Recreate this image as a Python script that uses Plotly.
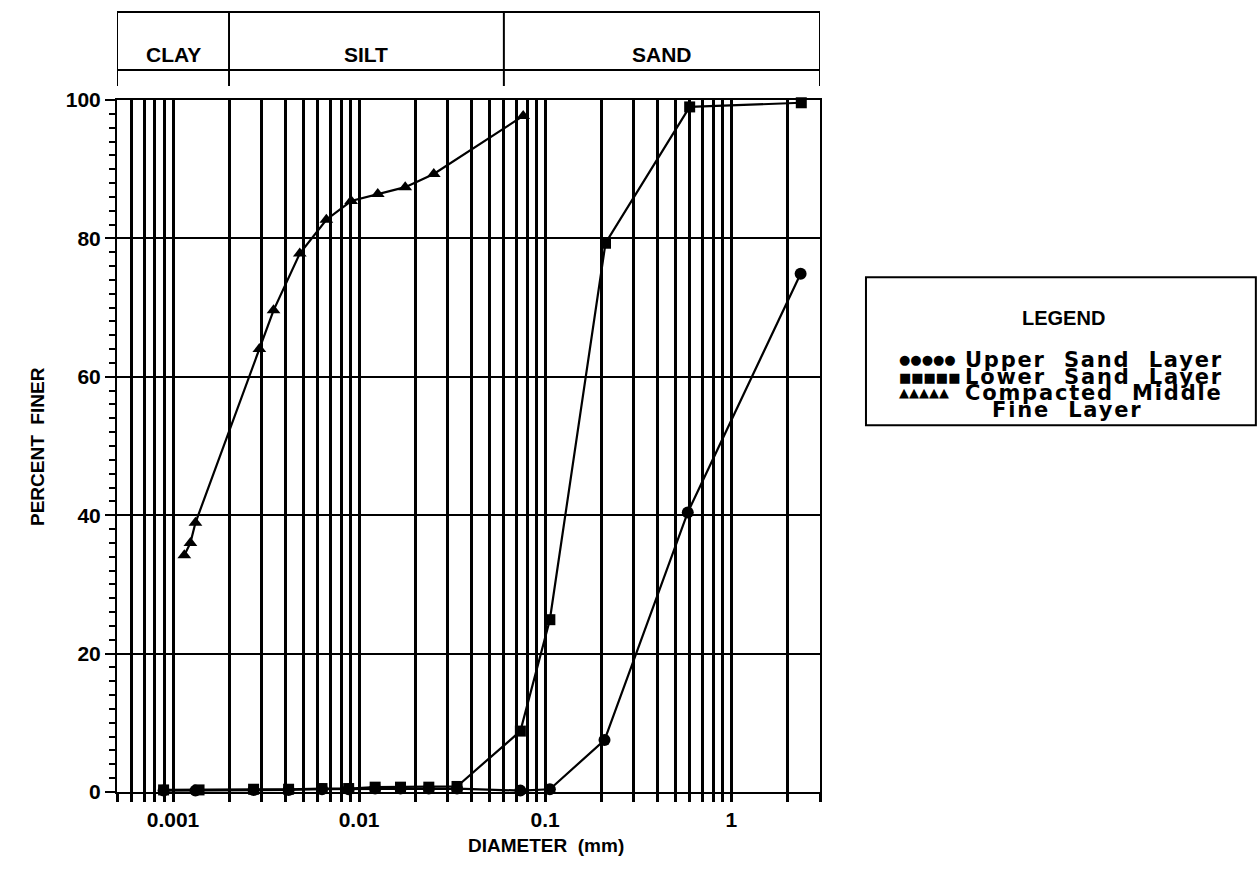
import numpy as np
import plotly.graph_objects as go

# Grain-size distribution data (diameter in mm, percent finer)
upper_sand_diam = [0.00089, 0.00132, 0.00271, 0.00418, 0.00632, 0.00879, 0.0122, 0.0167, 0.0237, 0.0336,
                   0.0736, 0.106, 0.2085, 0.584, 2.36]
upper_sand_pct = [0.2, 0.2, 0.3, 0.3, 0.4, 0.4, 0.5, 0.5, 0.5, 0.5,
                  0.2, 0.4, 7.5, 40.4, 74.9]

lower_sand_diam = [0.00089, 0.00138, 0.00271, 0.00418, 0.00632, 0.00879, 0.0122, 0.0167, 0.0237, 0.0336,
                   0.0736, 0.106, 0.211, 0.598, 2.38]
lower_sand_pct = [0.3, 0.3, 0.4, 0.4, 0.5, 0.5, 0.7, 0.7, 0.7, 0.8,
                  8.8, 24.9, 79.3, 99.0, 99.6]

middle_fine_diam = [0.00115, 0.00124, 0.00132, 0.00291, 0.00347, 0.0048, 0.00667, 0.00906, 0.0126,
                    0.0177, 0.0252, 0.0762]
middle_fine_pct = [34.2, 36.0, 38.9, 64.0, 69.6, 77.8, 82.7, 85.4, 86.4, 87.4, 89.3, 97.7]

series_names = ["Upper Sand Layer", "Lower Sand Layer", "Compacted Middle Fine Layer"]
series_symbols = ["circle", "square", "triangle-up"]
legend_glyphs = ["●●●●●", "■■■■■", "▲▲▲▲▲"]

# Log grid lines at every 1..9 of each decade
x_grid = [0.0005, 0.0006, 0.0007, 0.0008, 0.0009,
          0.001, 0.002, 0.003, 0.004, 0.005, 0.006, 0.007, 0.008, 0.009,
          0.01, 0.02, 0.03, 0.04, 0.05, 0.06, 0.07, 0.08, 0.09,
          0.1, 0.2, 0.3, 0.4, 0.5, 0.6, 0.7, 0.8, 0.9,
          1, 2, 3]
x_labels = {0.001: "0.001", 0.01: "0.01", 0.1: "0.1", 1: "1"}
y_ticks = [0, 20, 40, 60, 80, 100]

# Soil classification bands (mm)
band_names = ["CLAY", "SILT", "SAND"]
band_edges = [0.0005, 0.002, 0.06, 3]

x_min, x_max = 0.0005, 3

fig = go.Figure()
for name, sym, xs, ys, msize in zip(
        series_names, series_symbols,
        [upper_sand_diam, lower_sand_diam, middle_fine_diam],
        [upper_sand_pct, lower_sand_pct, middle_fine_pct],
        [12, 11, 12]):
    fig.add_trace(go.Scatter(
        x=xs, y=ys, name=name, mode="lines+markers",
        line=dict(color="black", width=2.2),
        marker=dict(symbol=sym, size=msize, color="black"),
        cliponaxis=False,
    ))

tick_font = dict(family="Liberation Sans", size=21, color="black", weight=700)
title_font = dict(family="Liberation Sans", size=19, color="black", weight=700)

fig.update_layout(
    width=1258, height=881,
    margin=dict(l=117, r=438, t=100, b=89),
    paper_bgcolor="white", plot_bgcolor="white",
    showlegend=False,
    xaxis=dict(
        type="log", range=[np.log10(x_min), np.log10(x_max)],
        tickmode="array", tickvals=x_grid,
        ticktext=[x_labels.get(v, "") for v in x_grid],
        ticks="outside", ticklen=8, tickwidth=2.5, tickcolor="black",
        showgrid=True, gridcolor="black", gridwidth=2.6,
        showline=True, linecolor="black", linewidth=2, mirror=True,
        tickfont=tick_font,
    ),
    yaxis=dict(
        range=[0, 100], tickmode="array", tickvals=y_ticks,
        ticks="outside", ticklen=10, tickwidth=2, tickcolor="black",
        minor=dict(dtick=2, tick0=0, ticks="outside", ticklen=6, tickwidth=1.5,
                   tickcolor="black", showgrid=False),
        showgrid=True, gridcolor="black", gridwidth=1.8, zeroline=False,
        showline=True, linecolor="black", linewidth=2, mirror=True,
        tickfont=tick_font,
    ),
)

# Axis titles
fig.add_annotation(xref="paper", yref="paper", x=0.61, y=-0.0954, xanchor="center",
                   text="DIAMETER  (mm)", showarrow=False, font=title_font)
fig.add_annotation(xref="paper", yref="paper", x=-0.1138, y=0.5, xanchor="center",
                   text="PERCENT  FINER", textangle=-90, showarrow=False, font=title_font)

# Classification box above the plot
box_top, box_mid, box_tick = 1.127, 1.0434, 1.0202
line_style = dict(color="black", width=2)
fig.add_shape(type="line", xref="x", yref="paper", x0=x_min, x1=x_max,
              y0=box_top, y1=box_top, line=line_style)
fig.add_shape(type="line", xref="x", yref="paper", x0=x_min, x1=x_max,
              y0=box_mid, y1=box_mid, line=line_style)
for edge in band_edges:
    fig.add_shape(type="line", xref="x", yref="paper", x0=edge, x1=edge,
                  y0=box_tick, y1=box_top, line=line_style)
for name, lo, hi in zip(band_names, band_edges[:-1], band_edges[1:]):
    fig.add_annotation(xref="x", yref="paper", x=(np.log10(lo) + np.log10(hi)) / 2,
                       y=(box_top + box_mid) / 2, xanchor="center", text=name, showarrow=False,
                       font=dict(family="Liberation Sans Narrow, Liberation Sans", size=21,
                                 color="black", weight=700))

# Legend panel
fig.add_shape(type="rect", xref="paper", yref="paper", x0=1.0654, x1=1.620,
              y0=0.530, y1=0.744, line=dict(color="black", width=2), fillcolor="white")
fig.add_annotation(xref="paper", yref="paper", x=1.3457, y=0.704, xanchor="center",
                   text="LEGEND", showarrow=False,
                   font=dict(family="Liberation Sans", size=20, color="black", weight=700))
legend_font = dict(family="DejaVu Sans", size=21, color="black", weight=600)


def spaced(text):
    return '<span style="letter-spacing:1.8px">' + text.replace(" ", "  ") + "</span>"


rows_y = [0.6243, 0.5997, 0.5766]
for glyph, name, yy in zip(legend_glyphs, series_names, rows_y):
    fig.add_annotation(xref="paper", yref="paper", x=1.110, y=yy, xanchor="left",
                       text=glyph, showarrow=False,
                       font=dict(family="DejaVu Sans", size=13, color="black"))
    words = name.split(" ")
    first = " ".join(words[:2]) if len(words) > 3 else name
    fig.add_annotation(xref="paper", yref="paper", x=1.203, y=yy, xanchor="left",
                       text=spaced(first), showarrow=False, font=legend_font)
    if len(words) > 3:
        fig.add_annotation(xref="paper", yref="paper", x=1.2418, y=yy - 0.0246, xanchor="left",
                           text=spaced(" ".join(words[2:])), showarrow=False, font=legend_font)

fig.write_html("out.html")
